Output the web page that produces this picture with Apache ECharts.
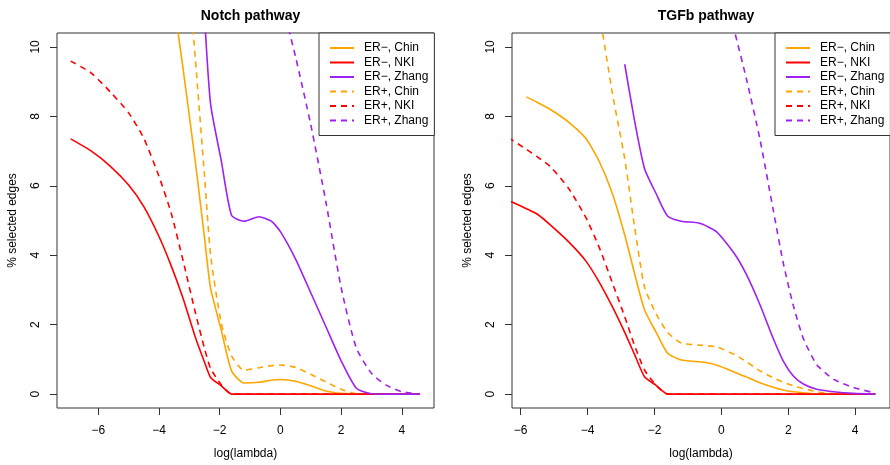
<!DOCTYPE html>
<html>
<head>
<meta charset="utf-8">
<script src="https://cdn.jsdelivr.net/npm/echarts@6/dist/echarts.min.js"></script>
<style>
  html, body { margin: 0; padding: 0; background: #fff; }
  #chart { width: 890px; height: 465px; }
</style>
</head>
<body>
<div id="chart"></div>
<script>
// log(lambda) grid of each panel
var notchX = [-6.91, -6.25, -5.6, -5.0, -4.5, -4.0, -3.6, -3.2, -2.8, -2.5, -2.3, -1.95, -1.61, -1.2, -0.7, -0.3, 0, 0.5, 1.0, 1.5, 2.0, 2.5, 3.0, 3.5, 4.0, 4.6];
var tgfbX = [-6.91, -6.23, -5.83, -5.5, -5.1, -4.55, -4.05, -3.65, -3.25, -2.89, -2.6, -2.3, -1.95, -1.61, -1.2, -0.65, -0.15, 0.4, 0.75, 1.15, 1.55, 1.85, 2.15, 2.45, 2.85, 3.35, 3.95, 4.6];

// % selected edges, Notch pathway (null = not plotted)
var notchChinNeg = [null, null, null, null, null, null, 11.85, 9.33, 6.67, 4.50, 3.05, 1.85, 0.67, 0.32, 0.34, 0.40, 0.42, 0.37, 0.24, 0.09, 0.02, 0, 0, 0, 0, 0];
var notchNkiNeg = [7.35, 7.01, 6.56, 6.02, 5.40, 4.54, 3.70, 2.74, 1.63, 0.92, 0.48, 0.24, 0, 0, 0, 0, 0, 0, 0, 0, 0, 0, 0, 0, 0, 0];
var notchZhangNeg = [null, null, null, null, null, null, null, null, null, 10.9, 8.35, 6.73, 5.15, 4.98, 5.11, 4.98, 4.68, 3.89, 2.92, 1.94, 0.96, 0.17, 0.01, 0, 0, 0];
var notchChinPos = [null, null, null, null, null, null, null, 14.0, 9.63, 6.29, 4.01, 2.05, 1.10, 0.69, 0.76, 0.82, 0.84, 0.77, 0.57, 0.35, 0.14, 0.01, 0, 0, 0, 0];
var notchNkiPos = [9.59, 9.26, 8.70, 8.10, 7.37, 6.27, 5.22, 3.82, 2.34, 1.31, 0.74, 0.27, 0, 0, 0, 0, 0, 0, 0, 0, 0, 0, 0, 0, 0, 0];
var notchZhangPos = [null, null, null, null, null, null, null, null, null, null, null, null, null, null, null, null, 11.45, 9.71, 7.76, 5.53, 3.07, 1.33, 0.60, 0.25, 0.07, 0];

// % selected edges, TGFb pathway
var tgfbChinNeg = [null, null, 8.56, 8.40, 8.19, 7.82, 7.36, 6.70, 5.75, 4.58, 3.49, 2.43, 1.78, 1.18, 0.98, 0.93, 0.84, 0.63, 0.49, 0.33, 0.20, 0.12, 0.07, 0.04, 0, 0, 0, 0];
var tgfbNkiNeg = [5.82, 5.52, 5.34, 5.18, 4.86, 4.37, 3.83, 3.22, 2.50, 1.78, 1.15, 0.50, 0.25, 0, 0, 0, 0, 0, 0, 0, 0, 0, 0, 0, 0, 0, 0, 0];
var tgfbZhangNeg = [null, null, null, null, null, null, null, null, null, 9.50, 7.89, 6.50, 5.77, 5.13, 4.98, 4.92, 4.68, 4.03, 3.44, 2.58, 1.60, 0.95, 0.52, 0.29, 0.14, 0.07, 0.02, 0];
var tgfbChinPos = [null, null, null, null, null, null, null, 11.0, 8.62, 6.78, 4.85, 3.09, 2.31, 1.78, 1.47, 1.41, 1.36, 1.14, 0.93, 0.67, 0.47, 0.34, 0.24, 0.16, 0.07, 0.01, 0, 0];
var tgfbNkiPos = [7.73, 7.30, 7.05, 6.83, 6.54, 5.90, 5.08, 4.22, 3.18, 2.23, 1.41, 0.70, 0.25, 0, 0, 0, 0, 0, 0, 0, 0, 0, 0, 0, 0, 0, 0, 0];
var tgfbZhangPos = [null, null, null, null, null, null, null, null, null, null, null, null, null, null, null, null, 12.5, 10.42, 9.07, 7.35, 5.30, 3.77, 2.55, 1.60, 0.85, 0.43, 0.19, 0.03];

var seriesNames = ['ER\u2212, Chin', 'ER\u2212, NKI', 'ER\u2212, Zhang', 'ER+, Chin', 'ER+, NKI', 'ER+, Zhang'];
var xTicks = [-6, -4, -2, 0, 2, 4];
var yTicks = [0, 2, 4, 6, 8, 10];

var FONT = '"Liberation Sans", Arial, sans-serif';
var colors = ['#FFA500', '#FF0000', '#A020F0'];

function pairs(xs, ys) {
  var out = [];
  for (var i = 0; i < xs.length; i++) {
    if (ys[i] !== null) out.push([xs[i], ys[i]]);
  }
  return out;
}

function fmt(v) {
  return String(v).replace('-', '\u2212');
}

function xAxis(idx, min, max) {
  return {
    type: 'value', gridIndex: idx, min: min, max: max,
    name: 'log(lambda)', nameLocation: 'middle', nameGap: 40,
    nameTextStyle: { fontFamily: FONT, fontSize: 12, color: '#000' },
    axisLine: { show: false, onZero: false },
    axisTick: { show: true, customValues: xTicks, length: 7, lineStyle: { color: '#333' } },
    axisLabel: { customValues: xTicks, formatter: fmt, margin: 17, fontFamily: FONT, fontSize: 12, color: '#000' },
    splitLine: { show: false }
  };
}

function yAxis(idx) {
  return {
    type: 'value', gridIndex: idx, min: -0.4, max: 10.4,
    name: '% selected edges', nameLocation: 'middle', nameGap: 38, nameRotate: 90,
    nameTextStyle: { fontFamily: FONT, fontSize: 12, color: '#000' },
    axisLine: { show: false, onZero: false },
    axisTick: { show: true, customValues: yTicks, length: 7, lineStyle: { color: '#333' } },
    axisLabel: { customValues: yTicks, rotate: 90, margin: 15, fontFamily: FONT, fontSize: 12, color: '#000' },
    splitLine: { show: false }
  };
}

function legend(left) {
  return {
    orient: 'vertical', left: left, top: 33,
    data: seriesNames,
    itemWidth: 24, itemHeight: 12, itemGap: 2.5,
    padding: [9, 6, 9, 10],
    backgroundColor: '#fff', borderColor: '#333', borderWidth: 1, borderRadius: 0,
    itemStyle: { color: 'transparent', borderColor: 'transparent', borderWidth: 0 },
    textStyle: { fontFamily: FONT, fontSize: 12, lineHeight: 12, color: '#000', padding: [0, 0, 0, 5] },
    selectedMode: false
  };
}

function line(name, idx, data, colorIdx, dashed) {
  return {
    name: name, type: 'line', xAxisIndex: idx, yAxisIndex: idx,
    data: data, symbol: 'none', clip: true, silent: true,
    smooth: 0.2,
    itemStyle: { color: colors[colorIdx] },
    lineStyle: { color: colors[colorIdx], width: 1.6, type: dashed ? [6, 5] : 'solid' }
  };
}

var panels = [
  { x: notchX, neg: [notchChinNeg, notchNkiNeg, notchZhangNeg], pos: [notchChinPos, notchNkiPos, notchZhangPos] },
  { x: tgfbX, neg: [tgfbChinNeg, tgfbNkiNeg, tgfbZhangNeg], pos: [tgfbChinPos, tgfbNkiPos, tgfbZhangPos] }
];

var series = [];
panels.forEach(function (p, idx) {
  // ER+ drawn first, ER- on top (as in the original)
  for (var k = 0; k < 3; k++) series.push(line(seriesNames[k + 3], idx, pairs(p.x, p.pos[k]), k, true));
  for (var j = 0; j < 3; j++) series.push(line(seriesNames[j], idx, pairs(p.x, p.neg[j]), j, false));
});

var chart = echarts.init(document.getElementById('chart'));
chart.setOption({
  animation: false,
  backgroundColor: '#fff',
  title: [
    { text: 'Notch pathway', left: 245.5, top: 4, textAlign: 'center',
      textStyle: { fontFamily: FONT, fontSize: 14, fontWeight: 'bold', color: '#000' } },
    { text: 'TGFb pathway', left: 701, top: 4, textAlign: 'center',
      textStyle: { fontFamily: FONT, fontSize: 14, fontWeight: 'bold', color: '#000' } }
  ],
  grid: [
    { left: 57, top: 33, width: 377, height: 377, show: true, borderColor: '#333', borderWidth: 1, backgroundColor: 'transparent' },
    { left: 512, top: 33, width: 378, height: 377, show: true, borderColor: '#333', borderWidth: 1, backgroundColor: 'transparent' }
  ],
  xAxis: [xAxis(0, -7.36, 5.06), xAxis(1, -6.26, 5.04)],
  yAxis: [yAxis(0), yAxis(1)],
  legend: [legend(319), legend(775)],
  series: series
});
</script>
</body>
</html>
